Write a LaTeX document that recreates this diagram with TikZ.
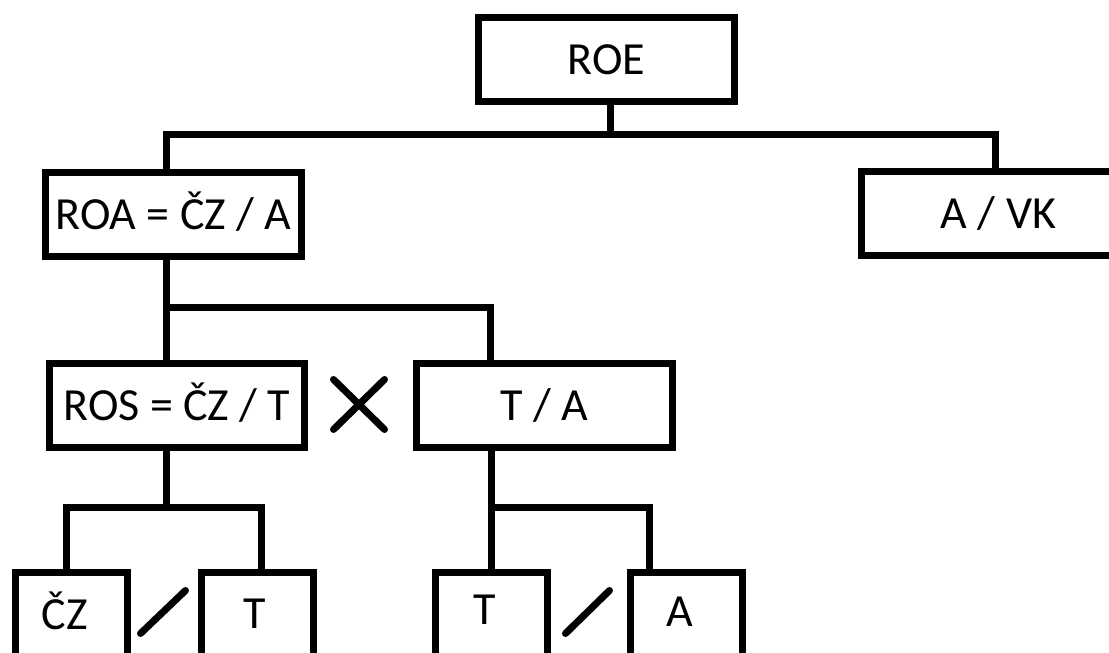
\documentclass[tikz,border=0pt]{standalone}
\usepackage{fontspec}
\setmainfont{Carlito}
\begin{document}
\begin{tikzpicture}[x=1pt,y=-1pt,
  box/.style={draw=black,line width=7pt,rectangle,outer sep=0pt,inner sep=0pt,
    minimum height=84pt,text height=29.6pt,text depth=0pt,
    font=\fontsize{46}{50}\selectfont},
  lowbox/.style={draw=black,line width=7pt,rectangle,outer sep=0pt,inner sep=0pt,
    minimum width=112pt,minimum height=128pt},
  lbl/.style={inner sep=0pt,text height=29.6pt,text depth=0pt,
    font=\fontsize{46}{50}\selectfont},
  conn/.style={line width=7pt,line join=miter},
  strokemark/.style={line width=7pt,line cap=round}]
\useasboundingbox (0,0) rectangle (1109,653);
\clip (0,0) rectangle (1109,653);
\fill[white] (0,0) rectangle (1109,653);

% boxes
\node[box,minimum width=256pt] (ROE) at (606.5,59.5) {ROE};
\node[box,minimum width=256pt] (ROA) at (173.5,214.5) {ROA = ČZ / A};
\node[box,minimum width=274pt] (AVK) at (998.5,213.5) {A / VK};
\node[box,minimum width=255pt] (ROS) at (177,405.5) {ROS = ČZ / T};
\node[box,minimum width=256pt] (TA) at (544.5,405.5) {T / A};

\node[lowbox] (CZ) at (71.5,636.5) {};
\node[lowbox] (T1) at (257.5,636.5) {};
\node[lowbox] (T2) at (491.5,636.5) {};
\node[lowbox] (A2) at (686.5,636.5) {};
\node[lbl] (tCZ) at (65,615) {ČZ};
\node[lbl] (tT1) at (255,613.5) {T};
\node[lbl] (tT2) at (485,610) {T};
\node[lbl] (tA2) at (680,611.5) {A};

% branch points
\coordinate (b1) at (610.5,134.5);
\coordinate (c1L) at (166,134.5);
\coordinate (c1R) at (995.5,134.5);
\coordinate (c2L) at (166,307);
\coordinate (c2R) at (490,307);
\coordinate (c3) at (166,507);
\coordinate (c3L) at (66.5,507);
\coordinate (c3R) at (261.5,507);
\coordinate (c4) at (491,507);
\coordinate (c4R) at (649.5,507);

% connectors
\draw[conn] (ROE.south -| b1) -- (b1);
\draw[conn] (ROA.north -| c1L) -- (c1L) -- (c1R) -- (AVK.north -| c1R);
\draw[conn] (ROA.south -| c2L) -- (ROS.north -| c2L);
\draw[conn] (c2L) -- (c2R) -- (TA.north -| c2R);
\draw[conn] (ROS.south -| c3) -- (c3);
\draw[conn] (CZ.north -| c3L) -- (c3L) -- (c3R) -- (T1.north -| c3R);
\draw[conn] (TA.south -| c4) -- (T2.north -| c4);
\draw[conn] (c4) -- (c4R) -- (A2.north -| c4R);

% marks
\draw[strokemark] (333.5,379.5) -- (384.5,429.5);
\draw[strokemark] (384.5,379.5) -- (333.5,429.5);
\draw[strokemark] (140.5,633.5) -- (185.5,590.5);
\draw[strokemark] (565.5,633.5) -- (609.5,590.5);
\end{tikzpicture}
\end{document}
